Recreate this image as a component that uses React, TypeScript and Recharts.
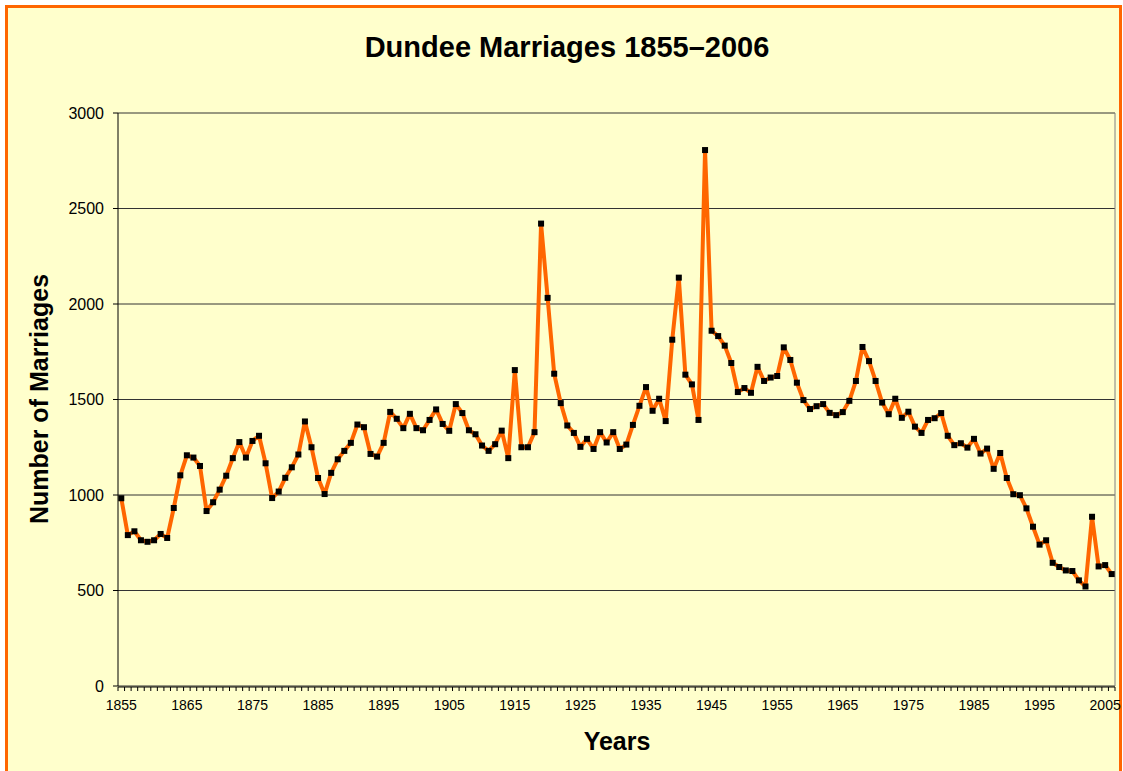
import { LineChart, Line, XAxis, YAxis, CartesianGrid, ReferenceLine } from 'recharts'

const firstYear = 1855

// marriages per year, 1855 - 2006
const marriages = [
  983, 790, 810, 763, 755, 763, 796, 775, 932, 1103,
  1208, 1196, 1152, 916, 962, 1028, 1101, 1193, 1277, 1196,
  1283, 1310, 1166, 984, 1018, 1090, 1145, 1212, 1385, 1250,
  1089, 1005, 1116, 1187, 1231, 1273, 1369, 1355, 1215, 1201,
  1273, 1435, 1399, 1350, 1425, 1350, 1339, 1393, 1448, 1372,
  1336, 1476, 1429, 1339, 1318, 1259, 1231, 1266, 1337, 1193,
  1654, 1250, 1250, 1329, 2421, 2032, 1635, 1481, 1364, 1325,
  1252, 1294, 1241, 1329, 1275, 1329, 1241, 1264, 1367, 1467,
  1565, 1441, 1504, 1387, 1813, 2138, 1630, 1579, 1393, 2806,
  1860, 1832, 1782, 1691, 1539, 1560, 1535, 1671, 1597, 1615,
  1623, 1773, 1707, 1588, 1497, 1450, 1465, 1476, 1430, 1418,
  1434, 1493, 1597, 1775, 1701, 1597, 1484, 1423, 1504, 1404,
  1436, 1358, 1325, 1393, 1402, 1429, 1310, 1261, 1271, 1248,
  1294, 1217, 1243, 1137, 1220, 1089, 1004, 999, 930, 834,
  740, 763, 645, 623, 605, 602, 553, 521, 886, 626,
  633, 586,
]

const years = marriages.map((_, i) => firstYear + i)

const yearLabels = [1855, 1865, 1875, 1885, 1895, 1905, 1915, 1925, 1935, 1945, 1955, 1965, 1975, 1985, 1995, 2005]
const valueTicks = [0, 500, 1000, 1500, 2000, 2500, 3000]

// tick marks sit between the years, like category boundaries
const yearBoundaries = [...years.map((y) => y - 0.5), years[years.length - 1] + 0.5]

const data = years.map((year, i) => ({ year, marriages: marriages[i] }))

const font = '"Liberation Sans", Arial, Helvetica, sans-serif'

function SquareDot(props: any) {
  const { cx, cy, index } = props
  if (cx == null || cy == null) return null
  return <rect key={`dot-${index}`} x={cx - 3} y={cy - 3} width={6} height={6} fill="#000" />
}

// draws the small boundary tick itself, no label
function MinorTick(props: any) {
  const { x, y } = props
  return <line x1={x} x2={x} y1={y - 6} y2={y - 2} stroke="#000" strokeWidth={1} />
}

export default function App() {
  return (
    <div style={{ position: 'absolute', left: 0, top: 0, width: 1123, height: 771, overflow: 'hidden', background: '#fff', fontFamily: font }}>
      <div
        style={{
          position: 'absolute',
          left: 5,
          top: 5,
          width: 1117,
          height: 820,
          boxSizing: 'border-box',
          border: '3px solid #FF6600',
          background: '#FFFFCC',
        }}
      />
      <div style={{ position: 'absolute', left: 0, top: 0 }}>
        <LineChart width={1123} height={771} data={data} margin={{ top: 113, right: 8, bottom: 83, left: 0 }}>
          <CartesianGrid horizontal vertical={false} stroke="#333" />
          <XAxis
            xAxisId="minor"
            dataKey="year"
            type="number"
            domain={[1854.5, 2006.5]}
            ticks={yearBoundaries}
            height={1}
            axisLine={{ stroke: '#000' }}
            tick={MinorTick}
            tickLine={false}
            tickSize={4}
            tickMargin={2}
            interval={0}
          />
          <XAxis
            dataKey="year"
            type="number"
            domain={[1854.5, 2006.5]}
            ticks={yearLabels}
            height={1}
            axisLine={false}
            tickLine={false}
            tickSize={4}
            tickMargin={10}
            interval={0}
            tick={{ fill: '#000', fontSize: 14, fontFamily: font }}
          />
          <YAxis
            domain={[0, 3000]}
            ticks={valueTicks}
            width={118}
            axisLine={{ stroke: '#000' }}
            tickLine={{ stroke: '#000' }}
            tickSize={5}
            tickMargin={9}
            tick={{ fill: '#000', fontSize: 16, fontFamily: font }}
          />
          <ReferenceLine x={2006.5} stroke="#808080" />
          <Line
            type="linear"
            dataKey="marriages"
            stroke="#FF6600"
            strokeWidth={4}
            strokeLinejoin="round"
            dot={SquareDot}
            activeDot={false}
            isAnimationActive={false}
          />
        </LineChart>
      </div>
      <svg width={1123} height={771} style={{ position: 'absolute', left: 0, top: 0, pointerEvents: 'none' }}>
        <text x={567} y={57} textAnchor="middle" fontSize={29} fontWeight="bold" fontFamily={font} fill="#000">
          Dundee Marriages 1855–2006
        </text>
        <text transform="translate(48,399) rotate(-90)" textAnchor="middle" fontSize={25} fontWeight="bold" fontFamily={font} fill="#000">
          Number of Marriages
        </text>
        <text x={617} y={750} textAnchor="middle" fontSize={25} fontWeight="bold" fontFamily={font} fill="#000">
          Years
        </text>
      </svg>
    </div>
  )
}
